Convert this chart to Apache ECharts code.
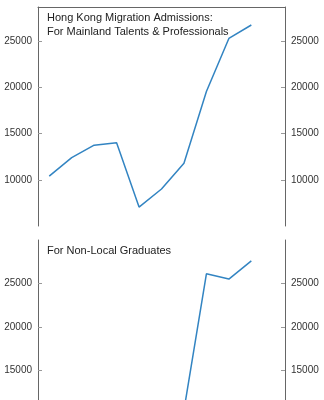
<!DOCTYPE html>
<html>
<head>
<meta charset="utf-8">
<script src="https://cdn.jsdelivr.net/npm/echarts@6/dist/echarts.min.js"></script>
<style>
html,body{margin:0;padding:0;background:#fff;}
#c{width:324px;height:400px;}
</style>
</head>
<body>
<div id="c"></div>
<script>
// Data
var years = ['2015','2016','2017','2018','2019','2020','2021','2022','2023','2024','2025'];
var talents = [10400, 12400, 13750, 14000, 7050, 9000, 11800, 19550, 25300, 26750, null];
var graduates = [8500, 9200, 9800, 10300, 10800, 9600, 10400, 26100, 25500, 27600, null];
var topTicks = [10000, 15000, 20000, 25000];
var bottomTicks = [10000, 15000, 20000, 25000];
var titleTop = 'Hong Kong Migration Admissions:\nFor Mainland Talents & Professionals';
var titleBottom = 'For Non-Local Graduates';

var chart = echarts.init(document.getElementById('c'), null, {renderer: 'canvas'});
var FONT = 'Liberation Sans, Arial, sans-serif';
var lineColor = '#3284c2';
var axisGray = '#666';

function yAx(grid, pos, min, max, ticks) {
  return {
    type: 'value', gridIndex: grid, position: pos, min: min, max: max, interval: 5000,
    splitLine: {show: false},
    axisLine: {show: true, lineStyle: {color: axisGray, width: 1}},
    axisTick: {show: true, inside: true, length: 4, customValues: ticks, lineStyle: {color: '#999'}},
    axisLabel: {show: true, customValues: ticks, color: '#333', fontSize: 10, fontFamily: FONT, margin: 6,
      formatter: function (v) { return String(v); }}
  };
}
function xAx(grid, showLine) {
  return {
    type: 'category', gridIndex: grid, data: years, position: 'top', boundaryGap: true,
    axisLine: {show: showLine, lineStyle: {color: axisGray, width: 1}},
    axisTick: {show: false}, axisLabel: {show: false}, splitLine: {show: false}
  };
}

chart.setOption({
  animation: false,
  backgroundColor: '#fff',
  title: [
    {text: titleTop, left: 47, top: 11, padding: 0,
     textStyle: {fontSize: 11, fontWeight: 'normal', color: '#222', fontFamily: FONT, lineHeight: 14}},
    {text: titleBottom, left: 47, top: 244, padding: 0,
     textStyle: {fontSize: 11, fontWeight: 'normal', color: '#222', fontFamily: FONT, lineHeight: 14}}
  ],
  grid: [
    {left: 38, right: 39, top: 7, height: 219, containLabel: false, outerBoundsMode: 'none'},
    {left: 38, right: 39, top: 240, height: 217, containLabel: false, outerBoundsMode: 'none'}
  ],
  xAxis: [xAx(0, true), xAx(1, false)],
  yAxis: [
    yAx(0, 'left', 5000, 28700, topTicks),
    yAx(0, 'right', 5000, 28700, topTicks),
    yAx(1, 'left', 5000, 30000, bottomTicks),
    yAx(1, 'right', 5000, 30000, bottomTicks)
  ],
  series: [
    {type: 'line', xAxisIndex: 0, yAxisIndex: 0, data: talents, showSymbol: false,
     lineStyle: {color: lineColor, width: 1.5}, itemStyle: {color: lineColor}, clip: false},
    {type: 'line', xAxisIndex: 1, yAxisIndex: 2, data: graduates, showSymbol: false,
     lineStyle: {color: lineColor, width: 1.5}, itemStyle: {color: lineColor}, clip: false}
  ]
});
</script>
</body>
</html>
